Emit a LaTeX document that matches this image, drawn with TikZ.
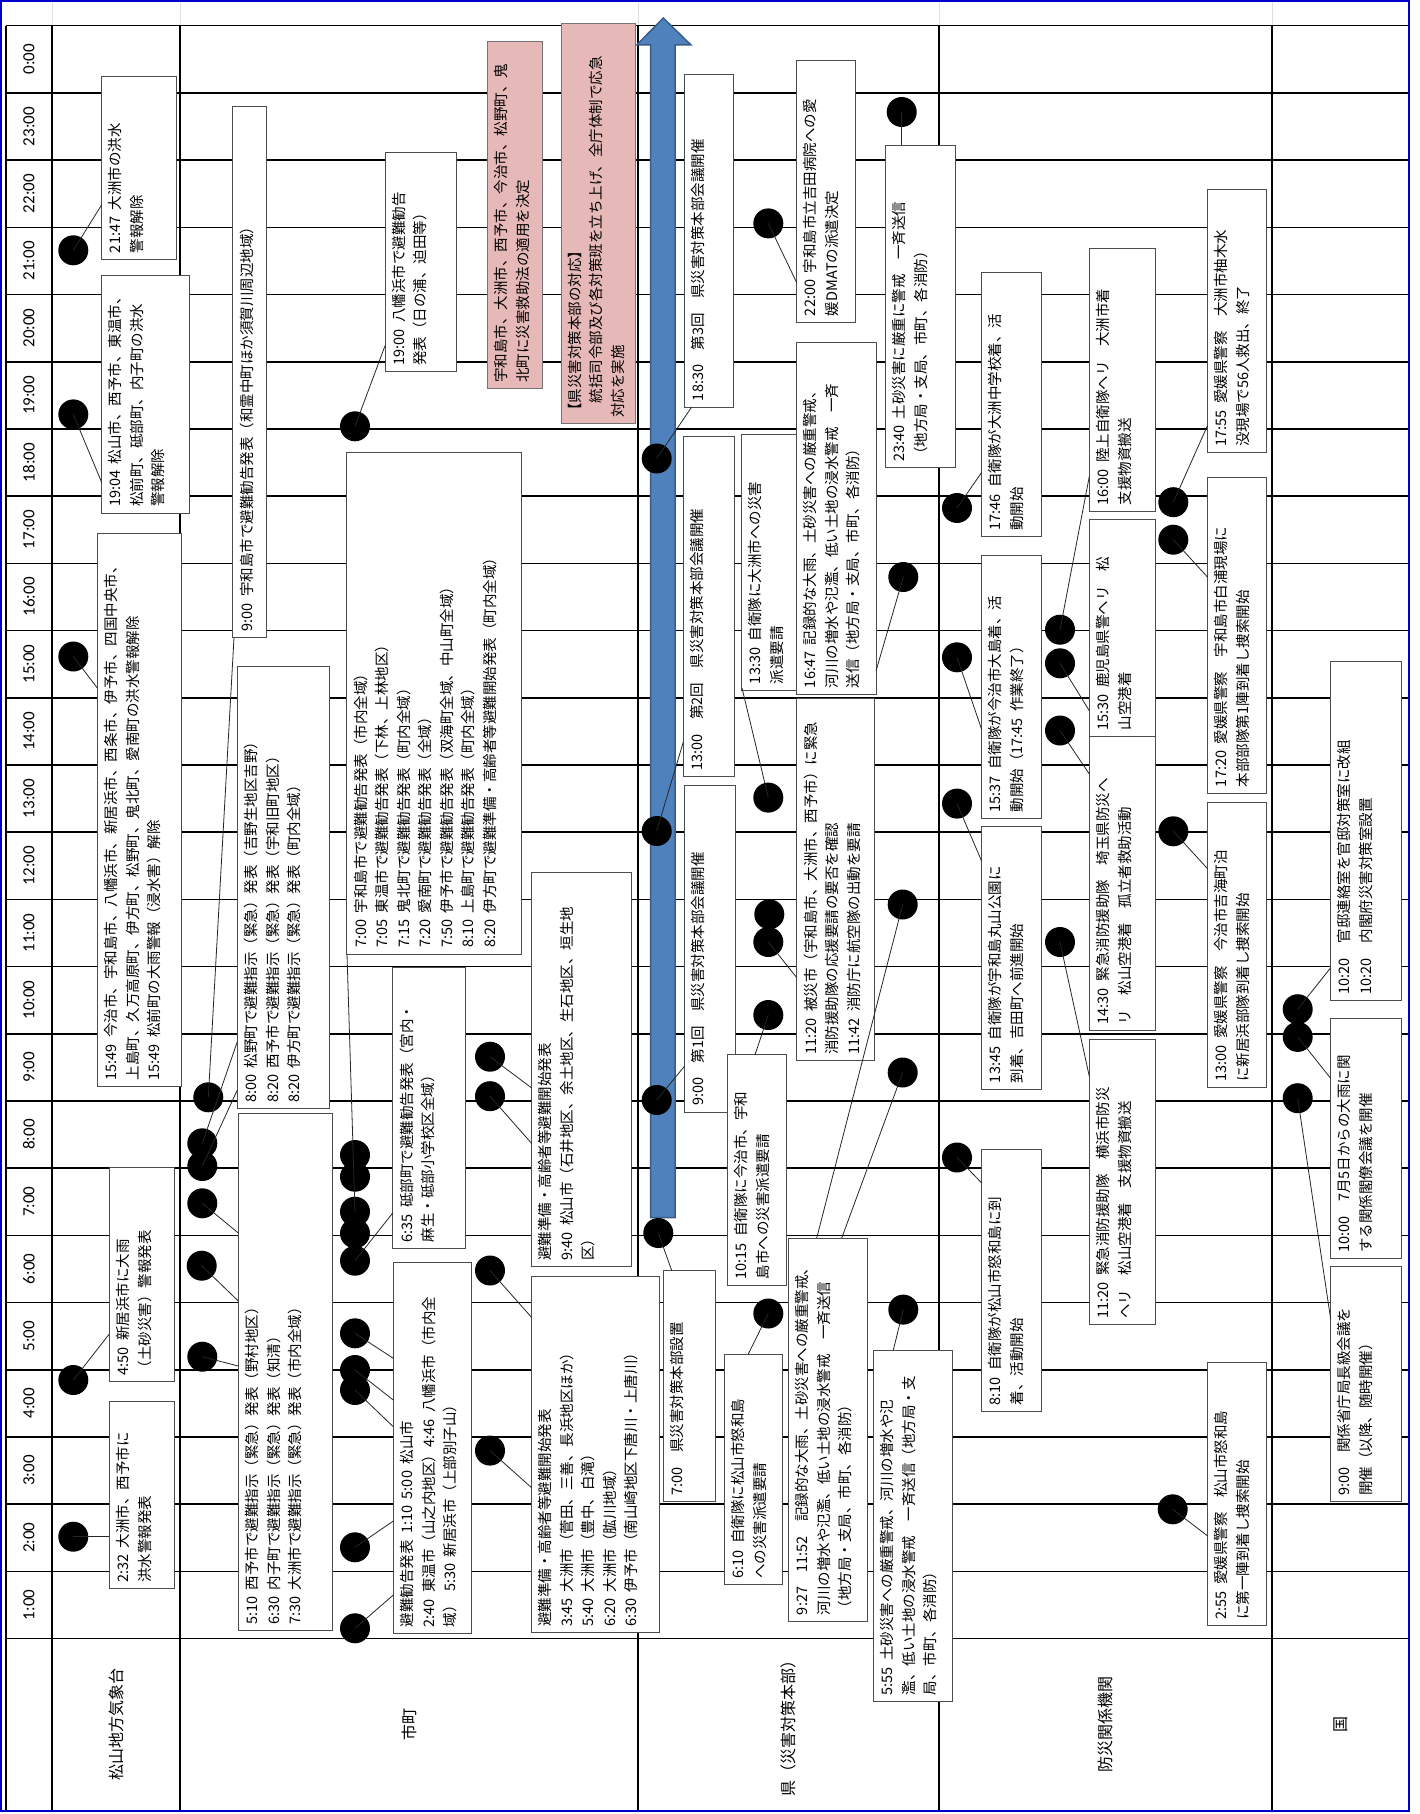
\documentclass[tikz,border=0pt]{standalone}
\usepackage{fontspec}
\setmainfont{Noto Sans CJK JP}
\newfontfamily\carl{Carlito}
\definecolor{arrowblue}{HTML}{4F81BD}
\definecolor{arrowedge}{HTML}{385D8A}
\definecolor{pinkfill}{HTML}{E6B9B8}
\definecolor{frameblue}{HTML}{0000CC}
\newcommand\evbox[7][]{%
  \pgfmathsetmacro\ebcx{(#3+#5)/2}%
  \pgfmathsetmacro\ebcy{(#4+#6)/2}%
  \pgfmathsetmacro\ebl{#6-#4-12}%
  \pgfmathsetmacro\ebh{#5-#3-14}%
  \node[evbox,#1] (#2) at (\ebcx,\ebcy) {\parbox[c][\ebh pt][t]{\ebl pt}{\def~{\hspace{0.45em}}\raggedright #7}};%
}
\begin{document}
\begin{tikzpicture}[x=1pt,y=-1pt,
  evbox/.style={rotate=90, draw=black!70, fill=white, line width=0.8pt, inner xsep=6pt, inner ysep=7pt, font=\fontsize{14.5}{21.5}\selectfont},
  pinkbox/.style={fill=pinkfill, draw=black!55},
  evdot/.style={circle, fill=black, minimum size=30pt, inner sep=0pt},
  conn/.style={draw=black!85, line width=0.8pt},
  hourline/.style={line width=1.6pt},
  colline/.style={line width=1.8pt},
  tlabel/.style={rotate=90, font=\carl\fontsize{17}{20}\selectfont},
  hlabel/.style={rotate=90, font=\fontsize{16}{20}\selectfont}]
\useasboundingbox (0,0) rectangle (1420,1814);
\fill[white] (0,0) rectangle (1420,1814);
% top strip spreadsheet gridlines
\foreach \x in {52,180,638,939,1272} \draw[gray!25, line width=1pt] (\x,0) -- (\x,25.7);
% hour lines
\foreach \k in {0,...,24} \draw[hourline] (6,{25.7+67.2*\k}) -- (1409,{25.7+67.2*\k});
% column lines
\draw[line width=2.5pt] (6,25.7) -- (6,1810);
\foreach \x in {52,180,638,939,1272} \draw[colline] (\x,25.7) -- (\x,1810);
% time labels
\foreach \k in {0,...,23}{\pgfmathtruncatemacro\hr{mod(24-\k,24)}\node[tlabel] (tl\k) at (29,{59.3+67.2*\k}) {\hr:00};}
% header labels
\node[hlabel] (h1) at (116,1724) {松山地方気象台};
\node[hlabel] (h2) at (409,1724) {市町};
\node[hlabel] (h3) at (788.5,1724) {県（災害対策本部）};
\node[hlabel] (h4) at (1105.5,1724) {防災関係機関};
\node[hlabel] (h5) at (1340.5,1724) {国};
% arrow
\draw[fill=arrowblue, draw=arrowedge, line width=1.5pt, line join=miter] (650.7,1217.6) -- (650.7,45) -- (636.7,45) -- (663.3,18) -- (691,45) -- (675,45) -- (675,1217.6) -- cycle;
% ---- boxes: meteorological observatory
\evbox{M1}{101.7}{76.3}{176}{259}{21:47~大洲市の洪水\\警報解除}
\evbox{M2}{101.7}{275.6}{189.3}{512.9}{19:04~松山市、西予市、東温市、\\松前町、砥部町、内子町の洪水\\警報解除}
\evbox{M3}{97.3}{533}{181}{1086.3}{15:49~今治市、宇和島市、八幡浜市、新居浜市、西条市、伊予市、四国中央市、\\上島町、久万高原町、伊方町、松野町、鬼北町、愛南町の洪水警報解除\\15:49~松前町の大雨警報（浸水害）解除}
\evbox{M4}{109.3}{1167.4}{174}{1381.3}{4:50~新居浜市に大雨\\（土砂災害）警報発表}
\evbox{M5}{109.3}{1401.6}{174}{1588.8}{2:32~大洲市、西予市に\\洪水警報発表}
% ---- municipalities
\evbox{C1}{232.7}{106.8}{266}{637.6}{9:00~宇和島市で避難勧告発表（和霊中町ほか須賀川周辺地域）}
\evbox{C2}{237.3}{666.4}{329.3}{1108.7}{8:00~松野町で避難指示（緊急）発表（吉野生地区吉野）\\8:20~西予市で避難指示（緊急）発表（宇和旧町地区）\\8:20~伊方町で避難指示（緊急）発表（町内全域）}
\evbox{C3}{238.3}{1113.3}{332.3}{1630.7}{5:10~西予市で避難指示（緊急）発表（野村地区）\\6:30~内子町で避難指示（緊急）発表（知清）\\7:30~大洲市で避難指示（緊急）発表（市内全域）}
\evbox{C4}{346.7}{452.7}{521.7}{953.9}{7:00~宇和島市で避難勧告発表（市内全域）\\7:05~東温市で避難勧告発表（下林、上林地区）\\7:15~鬼北町で避難勧告発表（町内全域）\\7:20~愛南町で避難勧告発表（全域）\\7:50~伊予市で避難勧告発表（双海町全域、中山町全域）\\8:10~上島町で避難勧告発表（町内全域）\\8:20~伊方町で避難準備・高齢者等避難開始発表（町内全域）}
\evbox{C5}{392.7}{967.7}{465}{1248.3}{6:35~砥部町で避難勧告発表（宮内・\\麻生・砥部小学校区全域）}
\evbox{C6}{393.3}{1262.6}{471}{1633.3}{避難勧告発表~1:10~5:00~松山市\\2:40~東温市（山之内地区）4:46~八幡浜市（市内全\\域）~5:30~新居浜市（上部別子山）}
\evbox{C7}{385}{152.2}{456.7}{371.7}{19:00~八幡浜市で避難勧告\\発表（日の浦、迫田等）}
\evbox[pinkbox]{C8}{487.3}{41.5}{542.3}{388.7}{宇和島市、大洲市、西予市、今治市、松野町、鬼\\北町に災害救助法の適用を決定}
\evbox[pinkbox]{C9}{561}{23.3}{635.7}{423.8}{【県災害対策本部の対応】\\　統括司令部及び各対策班を立ち上げ、全庁体制で応急\\対応を実施}
\evbox{C10}{531.7}{872}{631.7}{1266.6}{避難準備・高齢者等避難開始発表\\9:40~松山市（石井地区、余土地区、生石地区、垣生地\\区）}
\evbox{C11}{531.7}{1276.4}{659}{1632.7}{避難準備・高齢者等避難開始発表\\3:45~大洲市（菅田、三善、長浜地区ほか）\\5:40~大洲市（豊中、白滝）\\6:20~大洲市（肱川地域）\\6:30~伊予市（南山崎地区下唐川・上唐川）}
% ---- prefecture
\evbox{K1}{684.3}{74}{733.3}{407}{18:30　第3回　県災害対策本部会議開催}
\evbox{K2}{683.3}{436}{734.3}{776.7}{13:00　第2回　県災害対策本部会議開催}
\evbox{K3}{684.3}{785.8}{735.7}{1111.9}{9:00　第1回　県災害対策本部会議開催}
\evbox{K4}{663.3}{1270.5}{715.7}{1501.5}{7:00　県災害対策本部設置}
\evbox{K5}{741.7}{434.8}{796.7}{690}{13:30~自衛隊に大洲市への災害\\派遣要請}
\evbox{K6}{796.7}{342}{876}{694}{16:47~記録的な大雨、土砂災害への厳重警戒、\\河川の増水や氾濫、低い土地の浸水警戒　一斉\\送信（地方局・支局、市町、各消防）}
\evbox{K7}{796.7}{60}{855.7}{322}{22:00~宇和島市立吉田病院への愛\\媛DMATの派遣決定}
\evbox{K8}{885.7}{145}{955}{467.8}{23:40~土砂災害に厳重に警戒　一斉送信\\（地方局・支局、市町、各消防）}
\evbox{K9}{796.7}{698}{874.3}{1060.7}{11:20~被災市（宇和島市、大洲市、西予市）に緊急\\消防援助隊の応援要請の要否を確認\\11:42~消防庁に航空隊の出動を要請}
\evbox{K10}{727.7}{1054.7}{786}{1285.4}{10:15~自衛隊に今治市、宇和\\島市への災害派遣要請}
\evbox{K11}{724.3}{1354}{782.7}{1584.5}{6:10~自衛隊に松山市怒和島\\への災害派遣要請}
\evbox{K12}{788.3}{1238}{867.7}{1621}{9:27　11:52　記録的な大雨、土砂災害への厳重警戒、\\河川の増水や氾濫、低い土地の浸水警戒　一斉送信\\（地方局・支局、市町、各消防）}
\evbox{K13}{873.3}{1350}{952.7}{1701.2}{5:55~土砂災害への厳重警戒、河川の増水や氾\\濫、低い土地の浸水警戒　一斉送信（地方局・支\\局、市町、各消防）}
% ---- disaster-related agencies
\evbox{B1}{981.7}{272.7}{1041}{536.6}{17:46~自衛隊が大洲中学校着、活\\動開始}
\evbox{B2}{981.7}{555.4}{1041}{818.3}{15:37~自衛隊が今治市大島着、活\\動開始（17:45~作業終了）}
\evbox{B3}{981.7}{826.2}{1041}{1089}{13:45~自衛隊が宇和島丸山公園に\\到着、吉田町へ前進開始}
\evbox{B4}{981.7}{1149.7}{1041}{1411.4}{8:10~自衛隊が松山市怒和島に到\\着、活動開始}
\evbox{B5}{1089.3}{248.3}{1155.7}{511.3}{16:00~陸上自衛隊ヘリ　大洲市着\\支援物資搬送}
\evbox{B6}{1089.3}{519.2}{1155.7}{736.4}{15:30~鹿児島県警ヘリ　松\\山空港着}
\evbox{B7}{1089.3}{736.4}{1155.7}{1030.2}{14:30~緊急消防援助隊　埼玉県防災へ\\リ　松山空港着　孤立者救助活動}
\evbox{B8}{1089.3}{1038.9}{1155.7}{1324.5}{11:20~緊急消防援助隊　横浜市防災\\ヘリ　松山空港着　支援物資搬送}
\evbox{B9}{1207.7}{189.8}{1266.7}{452.7}{17:55~愛媛県警察　大洲市柚木水\\没現場で56人救出、終了}
\evbox{B10}{1207.7}{477.3}{1266.7}{793}{17:20~愛媛県警察　宇和島市白浦現場に\\本部部隊第1陣到着し捜索開始}
\evbox{B11}{1207.7}{802.5}{1266.7}{1087.5}{13:00~愛媛県警察　今治市吉海町泊\\に新居浜部隊到着し捜索開始}
\evbox{B12}{1207.7}{1362.5}{1266.7}{1625.6}{2:55~愛媛県警察　松山市怒和島\\に第一陣到着し捜索開始}
% ---- national
\evbox{N1}{1330.7}{661.3}{1401}{1000.2}{10:20　官邸連絡室を官邸対策室に改組\\10:20　内閣府災害対策室設置}
\evbox{N2}{1330.7}{1018}{1401}{1258.7}{10:00　7月5日からの大雨に関\\する関係閣僚会議を開催}
\evbox{N3}{1330.7}{1266.6}{1401}{1501.5}{9:00　関係省庁局長級会議を\\開催（以降、随時開催）}
% ---- dots
\foreach \n/\x/\y in {dM1/73.3/250.3, dM2/73.3/414.4, dM3/73.3/656.5, dM4/73.3/1380, dM5/73.3/1536.7,
  dcA/208.3/1097.3, dcB/202.3/1143.3, dcC/202.3/1166, dcD/202.3/1203.3, dcE/201.7/1265.7, dcF/202.3/1356.7,
  dS1/355/1155, dS2/355/1176.7, dS3/355/1211.7, dS4/355/1233.3, dS5/355/1260.7,
  dG1/355/1333.3, dG2/355/1370, dG3/355/1390, dG4/355/1547.3, dG5/355/1628.3,
  dH/355/426.3, dI1/490/1056.7, dI2/490/1096.2, dJ1/490/1270.5, dJ2/490/1450.6,
  dK1/656.7/458.5, dK2/656.7/831, dK3/656.7/1100, dK4/658.3/1233, dK5/768.3/797.6, dK6/903.3/577,
  dK7/768.3/223.4, dK8/901.7/112, dK9a/769.3/914.3, dK9b/768.3/942, dK10/768.3/1015, dK11/768.3/1313.5,
  dK12a/902.7/904.5, dK12b/902.7/1072.5, dK13/903.3/1309.6,
  dB1/957/508, dB2/957/657.3, dB3/957/803.6, dB4/957/1157.5, dB5/1060/629.7, dB6/1060/663.3,
  dB7/1060/730.5, dB8/1060/942, dB9/1173.3/502.2, dB10/1173.3/539.7, dB11/1173.3/831.3, dB12/1172.7/1509.3,
  dN1/1297.7/1009.2, dN2/1297.7/1036.9, dN3/1297.7/1098.2}
  \node[evdot] (\n) at (\x,\y) {};
% ---- connector end points
\foreach \n/\x/\y in {eM1/101.7/204.8, eM2/101.7/482.4, eM3/97.3/688, eM4/109.3/1334, eM5/109.3/1536.7,
  ecA/234/637.6, ecB/237.3/1041.7, ecC/237.3/1090, ecD/238.3/1233, ecE/238.3/1301, ecF/238.3/1366,
  eS/347/953.9, eS5/392.7/1213, eG1/393.3/1358.3, eG2/393.3/1400, eG3/393.3/1426.7, eG4/393.3/1521, eG5/393.3/1595,
  eH/385/345.8, eI1/531.7/1088, eI2/531.7/1143.5, eJ1/531.7/1317.5, eJ2/531.7/1487.8,
  eK1/691.7/407, eK2/683.3/742, eK3/684.3/1066.4, eK4/671.7/1270.5, eK5/742/688, eK6/876/671,
  eK7/796.7/282.7, eK8/901.7/145, eK9/796.7/977.6, eK10/755/1054.7, eK11/748.3/1354,
  eK12a/816.7/1238, eK12b/841.7/1238, eK13/893.3/1350,
  eB1/981.7/472.3, eB2/981.7/729.6, eB3/981.7/861.3, eB4/981.7/1183, eB5/1089.3/476.4, eB6/1089.3/710.7,
  eB7/1089.3/774, eB8/1089.3/1076.4, eB9/1207.7/425.1, eB10/1207.7/577.3, eB11/1207.7/868.9, eB12/1207.7/1536,
  eN1/1330.7/967.7, eN2/1330.7/1078.4, eN3/1330.7/1319.4}
  \coordinate (\n) at (\x,\y);
% ---- connectors
\foreach \a/\b in {dM1/eM1, dM2/eM2, dM3/eM3, dM4/eM4, dM5/eM5,
  dcA/ecA, dcB/ecB, dcC/ecC, dcD/ecD, dcE/ecE, dcF/ecF, dS3/eS, dS5/eS5,
  dG1/eG1, dG2/eG2, dG3/eG3, dG4/eG4, dG5/eG5, dH/eH, dI1/eI1, dI2/eI2, dJ1/eJ1, dJ2/eJ2,
  dK1/eK1, dK2/eK2, dK3/eK3, dK4/eK4, dK5/eK5, dK6/eK6, dK7/eK7, dK8/eK8, dK9b/eK9, dK10/eK10, dK11/eK11,
  dK12a/eK12a, dK12b/eK12b, dK13/eK13,
  dB1/eB1, dB2/eB2, dB3/eB3, dB4/eB4, dB5/eB5, dB6/eB6, dB7/eB7, dB8/eB8, dB9/eB9, dB10/eB10, dB11/eB11, dB12/eB12,
  dN1/eN1, dN2/eN2, dN3/eN3}
  \draw[conn] (\a.center) -- (\b);
% frame
\draw[frameblue, line width=2.5pt] (1.2,1.2) rectangle (1409,1811);
\end{tikzpicture}
\end{document}
